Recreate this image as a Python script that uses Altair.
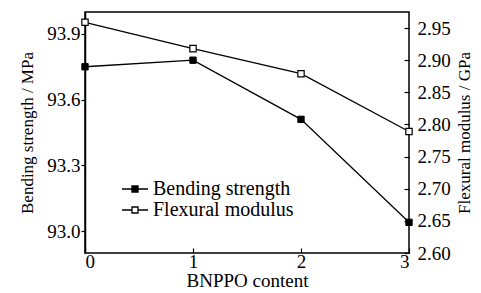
import altair as alt
import pandas as pd

x_vals = [0, 1, 2, 3]
bending = [93.75, 93.78, 93.51, 93.04]
flexural = [2.959, 2.918, 2.879, 2.789]
series_names = ["Bending strength", "Flexural modulus"]
left_ticks = [93.0, 93.3, 93.6, 93.9]
right_ticks = [2.60, 2.65, 2.70, 2.75, 2.80, 2.85, 2.90, 2.95]

df_b = pd.DataFrame({"x": x_vals, "v": bending, "s": series_names[0]})
df_f = pd.DataFrame({"x": x_vals, "v": flexural, "s": series_names[1]})

FONT = "Liberation Serif"
xenc = alt.X("x:Q", scale=alt.Scale(domain=[0, 3], nice=False),
             axis=alt.Axis(values=x_vals, format="d", title="BNPPO content",
                           offset=-5, domain=False, tickSize=5, labelPadding=-1,
                           titlePadding=0, labelFontSize=19, titleFontSize=19))

legend = alt.Legend(title=None, orient="none", legendX=39, legendY=166,
                    symbolType="M-1.3,0H-0.3M0.3,0H1.3M-0.3,-0.3H0.3V0.3H-0.3Z",
                    symbolSize=400, symbolStrokeColor="black", symbolStrokeWidth=1.3,
                    labelFont=FONT, labelFontSize=20, labelColor="black",
                    rowPadding=0, symbolOffset=0, labelOffset=7)
fill_enc = alt.Fill("s:N", scale=alt.Scale(domain=series_names, range=["black", "white"]),
                    legend=legend)

yl = alt.Y("v:Q", scale=alt.Scale(domain=[92.9, 94.0], nice=False, zero=False),
           axis=alt.Axis(values=left_ticks, format=".1f", title="Bending strength / MPa",
                         orient="left", tickSize=4, labelPadding=1, titlePadding=10))
yr = alt.Y("v:Q", scale=alt.Scale(domain=[2.6, 2.975], nice=False, zero=False),
           axis=alt.Axis(values=right_ticks, format=".2f", title="Flexural modulus / GPa",
                         orient="right", offset=-5, domain=False, tickSize=5,
                         labelPadding=8, titleAngle=270, titlePadding=23))

b_line = alt.Chart(df_b).mark_line(color="black", strokeWidth=1.3).encode(x=xenc, y=yl)
b_pts = alt.Chart(df_b).mark_square(size=40, stroke="black", strokeWidth=1, opacity=1).encode(
    x=xenc, y=yl, fill=fill_enc)
f_line = alt.Chart(df_f).mark_line(color="black", strokeWidth=1.3).encode(x=xenc, y=yr)
f_pts = alt.Chart(df_f).mark_square(size=40, stroke="black", strokeWidth=1.2, opacity=1).encode(
    x=xenc, y=yr, fill=fill_enc)

left = alt.layer(b_line, b_pts)
right = alt.layer(f_line, f_pts)

chart = alt.layer(left, right).resolve_scale(y="independent").properties(
    width=324, height=241,
    background="white",
    autosize=alt.AutoSizeParams(type="none"),
    padding={"left": 77, "top": 4, "right": 64, "bottom": 40},
).configure_view(stroke="black", strokeWidth=1.5).configure_axis(
    grid=False, labelFont=FONT, titleFont=FONT, labelFontSize=19, titleFontSize=17,
    labelColor="black", titleColor="black", tickColor="black", domainColor="black",
    titleFontWeight="normal", tickWidth=1.2, domainWidth=1.5,
)

chart.save("out.html", embed_options={"renderer": "svg", "actions": False})
